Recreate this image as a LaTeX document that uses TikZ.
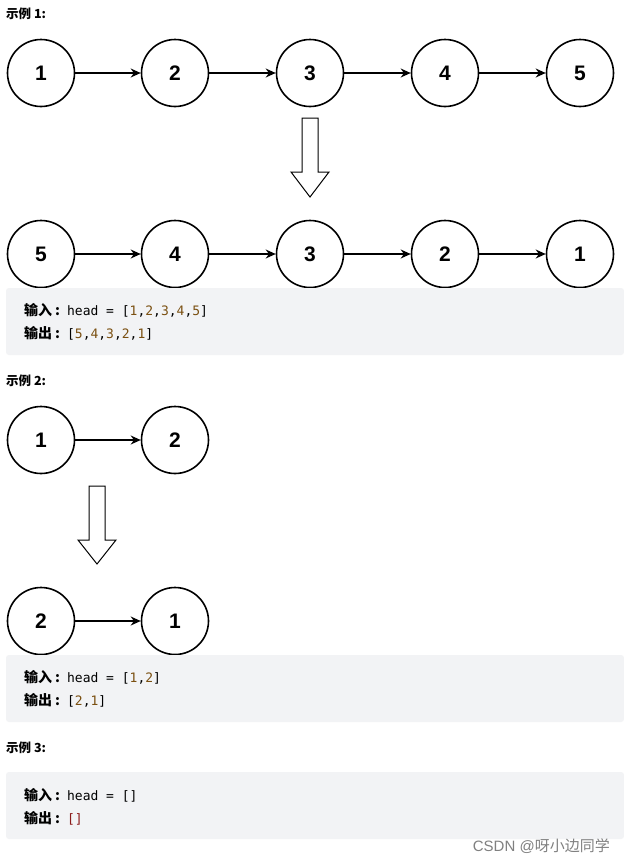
\documentclass[tikz,border=0pt]{standalone}
\usepackage{fontspec}
\usetikzlibrary{arrows.meta}
\setmainfont{Liberation Sans}
\newfontfamily\cjk{Noto Sans CJK SC}
\newcommand\cjkb{\cjk\bfseries}
\newfontfamily\mono{DejaVu Sans Mono}
\definecolor{boxbg}{HTML}{F2F3F5}
\definecolor{numc}{HTML}{7A4F10}
\definecolor{outc}{HTML}{8B1A1A}
\newcommand\incol{{\fontsize{14}{14}\selectfont\cjkb 输入\hspace{3pt}:}\hspace{7pt}}
\newcommand\outcol{{\fontsize{14}{14}\selectfont\cjkb 输出\hspace{3pt}:}\hspace{7pt}}
\begin{document}
\begin{tikzpicture}[x=1pt,y=-1pt,
  ll/.style={circle,draw,line width=1.6pt,minimum size=67pt,inner sep=0pt,font=\fontsize{21}{21}\selectfont\bfseries},
  lk/.style={-{Stealth[length=10pt,width=9pt]},line width=1.4pt},
  hol/.style={draw,line width=1pt,fill=white},
  bx/.style={fill=boxbg,rounded corners=3pt},
  lab/.style={anchor=west,font=\fontsize{12.5}{12.5}\selectfont\cjkb},
  code/.style={anchor=west,inner sep=0pt,font=\fontsize{13}{13}\selectfont}]
\useasboundingbox (0,0) rectangle (624,863);
\fill[white] (0,0) rectangle (624,863);
\node[lab,inner sep=0pt] (t1) at (6,14) {示例 1:};
\foreach \n/\x/\l in {a1/41/1,a2/175/2,a3/310/3,a4/445/4,a5/580/5}{\node[ll] (\n) at (\x,73) {\l};}
\foreach \n/\x/\l in {b1/41/5,b2/175/4,b3/310/3,b4/445/2,b5/580/1}{\node[ll] (\n) at (\x,254) {\l};}
\draw[lk] (a1)--(a2); \draw[lk] (a2)--(a3); \draw[lk] (a3)--(a4); \draw[lk] (a4)--(a5);
\draw[lk] (b1)--(b2); \draw[lk] (b2)--(b3); \draw[lk] (b3)--(b4); \draw[lk] (b4)--(b5);
\draw[hol] (302,118)--(318,118)--(318,172)--(329,172)--(310,197)--(291,172)--(302,172)--cycle;
\fill[bx] (6,288) rectangle (624,355);
\node[code] (i1) at (24,310) {\incol{\mono head = [\textcolor{numc}{1},\textcolor{numc}{2},\textcolor{numc}{3},\textcolor{numc}{4},\textcolor{numc}{5}]}};
\node[code] (o1) at (24,333) {\outcol{\mono [\textcolor{numc}{5},\textcolor{numc}{4},\textcolor{numc}{3},\textcolor{numc}{2},\textcolor{numc}{1}]}};
\node[lab,inner sep=0pt] (t2) at (6,381) {示例 2:};
\node[ll] (c1) at (41,440) {1}; \node[ll] (c2) at (175,440) {2};
\draw[lk] (c1)--(c2);
\draw[hol] (89,486)--(105,486)--(105,540)--(116,540)--(97,564)--(78,540)--(89,540)--cycle;
\node[ll] (d1) at (41,621) {2}; \node[ll] (d2) at (175,621) {1};
\draw[lk] (d1)--(d2);
\fill[bx] (6,655) rectangle (624,722);
\node[code] (i2) at (24,677) {\incol{\mono head = [\textcolor{numc}{1},\textcolor{numc}{2}]}};
\node[code] (o2) at (24,700) {\outcol{\mono [\textcolor{numc}{2},\textcolor{numc}{1}]}};
\node[lab,inner sep=0pt] (t3) at (6,748) {示例 3:};
\fill[bx] (6,772) rectangle (624,839);
\node[code] (i3) at (24,795) {\incol{\mono head = []}};
\node[code] (o3) at (24,818) {\outcol{\mono\textcolor{outc}{[]}}};
\node[anchor=east,inner sep=0pt,text=gray,font=\fontsize{15}{15}\selectfont] (wm) at (610,846) {CSDN @{\cjk 呀小边同学}};
\end{tikzpicture}
\end{document}
